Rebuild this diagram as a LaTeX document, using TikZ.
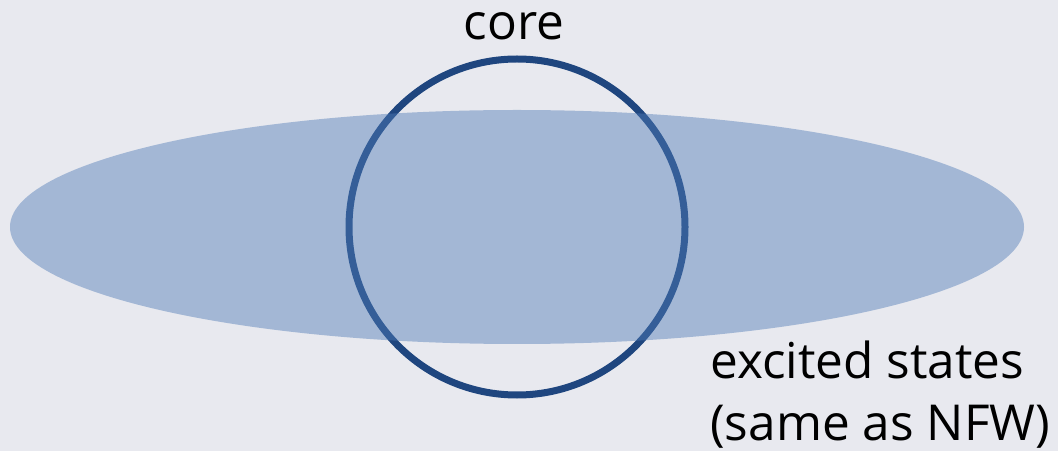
\documentclass[tikz,border=0pt]{standalone}
\usepackage{fontspec}
\setmainfont{Open Sans}
\usetikzlibrary{positioning, shapes.geometric}
\definecolor{bggray}{RGB}{232,233,239}
\definecolor{halofill}{RGB}{81,124,183}
\definecolor{coreblue}{RGB}{31,70,127}

\begin{document}
\begin{tikzpicture}[
  x=0.025cm, y=-0.025cm,
  txt/.style={font=\fontsize{35.2}{42}\selectfont, inner sep=0pt},
  corering/.style={circle, draw=coreblue, line width=7*0.025cm, minimum size=336*0.025cm, inner sep=0pt},
  halo/.style={ellipse, fill=halofill, fill opacity=0.45, minimum width=1014*0.025cm, minimum height=234*0.025cm, inner sep=0pt}
]
  \fill[bggray] (0,0) rectangle (1058,451);
  \useasboundingbox (0,0) rectangle (1058,451);

  \node[corering] (ring) at (517,227) {};
  \node[halo] (halo) at (517,227) {};

  \node[txt, anchor=base] (coretxt) at (514,40) {core};
  \node[txt, anchor=base west] (exc) at (710,378) {excited states};
  \node[txt, anchor=base west] (nfw) at (710,440) {(same as NFW)};
\end{tikzpicture}
\end{document}
